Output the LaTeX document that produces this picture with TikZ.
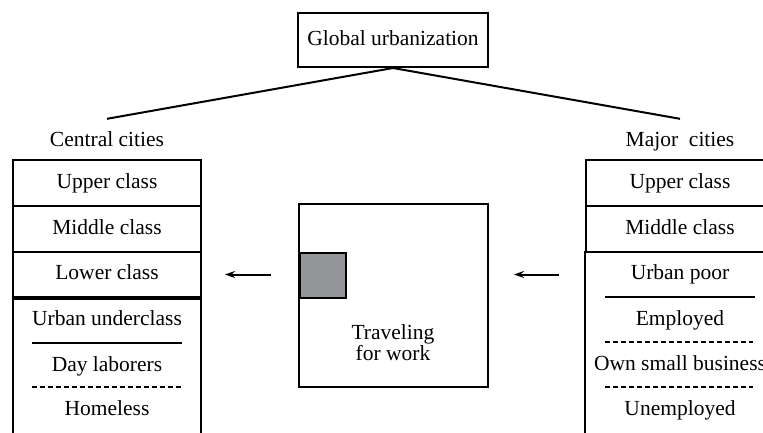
\documentclass[tikz,border=0pt]{standalone}
\usepackage{fontspec}
\setmainfont[Ligatures=TeX]{Liberation Serif}
\usetikzlibrary{arrows.meta}
\definecolor{boxgray}{RGB}{147,149,152}
\begin{document}
\begin{tikzpicture}[x=1pt,y=-1pt,
  every node/.style={font=\rmfamily\fontsize{21.5}{21}\selectfont},
  frame/.style={draw, line width=2pt},
  txt/.style={inner sep=0pt, text height=15pt, text depth=4.5pt},
  row/.style={frame, txt, minimum width=188pt, minimum height=46pt},
  heading/.style={anchor=base, inner xsep=0pt, inner ysep=12pt, text height=15pt, text depth=5pt},
  link/.style={line width=2pt},
  solidrule/.style={line width=2pt},
  dashrule/.style={line width=2pt, dash pattern=on 5pt off 3pt},
  flow/.style={line width=2pt, -{Stealth[length=10pt,width=7pt]}}
]
\useasboundingbox (0,0) rectangle (763,432);
\clip (0,0) rectangle (763,432);

% top of the hierarchy
\node[frame, txt, minimum width=190pt, minimum height=54pt] (global) at (393,40) {Global urbanization};
\node[heading] (central) at (107,146) {Central cities};
\node[heading] (major) at (680,146) {Major\ \ cities};
\draw[link] (global.south) -- (central.north);
\draw[link] (global.south) -- (major.north);

% central cities column
\node[row] (lupper) at (107,183) {Upper class};
\node[row] (lmiddle) at (107,229) {Middle class};
\node[row, minimum height=45pt] (llower) at (107,274.5) {Lower class};
\node[frame, minimum width=188pt, minimum height=163pt, inner sep=0pt] (lbottom) at (107,378.5) {};
\draw[line width=3.5pt] (llower.south west) -- (llower.south east);
\node[txt] (under) at (107,320) {Urban underclass};
\node[txt] (day) at (107,366) {Day laborers};
\node[txt] (homeless) at (107,410) {Homeless};
\draw[solidrule] (32,343) -- (182,343);
\draw[dashrule] (32,387) -- (182,387);

% commuting block
\node[frame, minimum width=189pt, minimum height=183pt, inner sep=0pt] (travel) at (393.5,295.5) {};
\node[frame, fill=boxgray, minimum width=46pt, minimum height=45pt, inner sep=0pt, anchor=north west] (badge) at (299,252) {};
\node[align=center, inner sep=0pt] (travtext) at (393,343) {Traveling\\for work};

% major cities column
\node[row] (rupper) at (680,183) {Upper class};
\node[row] (rmiddle) at (680,229) {Middle class};
\node[frame, minimum width=190pt, minimum height=208pt, inner sep=0pt] (rbottom) at (680,356) {};
\node[txt] (urbanpoor) at (680,274.5) {Urban poor};
\node[txt] (employed) at (680,320) {Employed};
\node[txt] (business) at (680,365) {Own small business};
\node[txt] (unemployed) at (680,410) {Unemployed};
\draw[solidrule] (605,297) -- (755,297);
\draw[dashrule] (605,342) -- (753,342);
\draw[dashrule] (605,387) -- (753,387);

% arrows toward the central cities
\draw[flow, shorten <=27pt, shorten >=23pt] (llower.east -| travel.west) -- (llower.east);
\draw[flow, shorten <=25pt, shorten >=25pt] (rbottom.west |- urbanpoor) -- (travel.east |- urbanpoor);
\end{tikzpicture}
\end{document}
